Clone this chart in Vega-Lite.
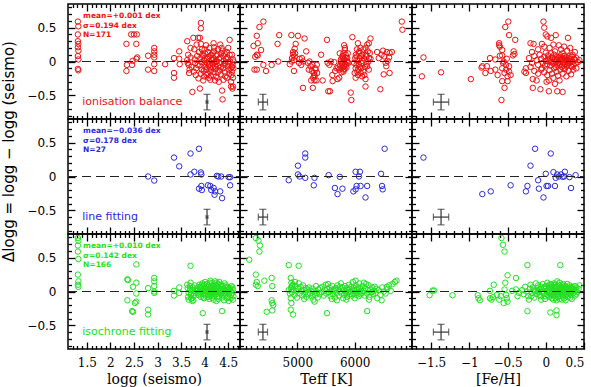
{
  "$schema": "https://vega.github.io/schema/vega-lite/v6.json",
  "background": "white",
  "padding": {"left": 1, "top": 2, "right": 5, "bottom": 2},
  "columns": 3,
  "spacing": 0,
  "bounds": "flush",
  "datasets": {
    "ionLogg": [
      {"logg":1.31,"dlogg":0.59},{"logg":1.32,"dlogg":0.52},{"logg":1.31,"dlogg":0.40},{"logg":1.31,"dlogg":0.30},{"logg":1.32,"dlogg":0.26},{"logg":1.31,"dlogg":0.21},{"logg":1.32,"dlogg":0.16},{"logg":1.31,"dlogg":0.08},{"logg":1.32,"dlogg":0.03},{"logg":1.31,"dlogg":-0.11},{"logg":1.32,"dlogg":-0.13},
      {"logg":2.34,"dlogg":0.26},{"logg":2.35,"dlogg":-0.05},{"logg":2.34,"dlogg":-0.14},{"logg":2.44,"dlogg":0.40},{"logg":2.50,"dlogg":0.40},{"logg":2.56,"dlogg":0.40},{"logg":2.55,"dlogg":0.26},{"logg":2.47,"dlogg":0.01},{"logg":2.55,"dlogg":0.04},{"logg":2.57,"dlogg":0.06},{"logg":2.46,"dlogg":-0.05},
      {"logg":2.80,"dlogg":0.085},{"logg":2.80,"dlogg":-0.12},{"logg":2.93,"dlogg":0.20},{"logg":2.93,"dlogg":0.15},{"logg":2.93,"dlogg":0.10},{"logg":2.93,"dlogg":0.06},{"logg":2.93,"dlogg":-0.04},{"logg":2.93,"dlogg":-0.14},{"logg":3.16,"dlogg":-0.04},
      {"logg":3.35,"dlogg":0.05},{"logg":3.35,"dlogg":-0.17},{"logg":3.35,"dlogg":-0.24},{"logg":3.46,"dlogg":0.15},{"logg":3.46,"dlogg":0.04},{"logg":3.47,"dlogg":-0.04},
      {"logg":3.63,"dlogg":0.30},{"logg":3.65,"dlogg":0.10},{"logg":3.64,"dlogg":-0.02},{"logg":3.66,"dlogg":-0.05},{"logg":3.68,"dlogg":-0.12},{"logg":3.63,"dlogg":0.02},{"logg":3.70,"dlogg":0.20},{"logg":3.72,"dlogg":-0.08},{"logg":3.74,"dlogg":-0.45},{"logg":3.70,"dlogg":0.06},{"logg":3.67,"dlogg":-0.17},
      {"logg":3.76,"dlogg":0.35},{"logg":3.78,"dlogg":0.18},{"logg":3.79,"dlogg":0.03},{"logg":3.80,"dlogg":-0.02},{"logg":3.82,"dlogg":-0.10},{"logg":3.77,"dlogg":-0.15},{"logg":3.84,"dlogg":0.08},{"logg":3.81,"dlogg":-0.20},{"logg":3.83,"dlogg":0.25},{"logg":3.86,"dlogg":0.35},{"logg":3.85,"dlogg":-0.05},
      {"logg":3.92,"dlogg":0.57},{"logg":3.92,"dlogg":0.49},{"logg":3.90,"dlogg":0.35},{"logg":3.92,"dlogg":0.26},{"logg":3.88,"dlogg":0.14},{"logg":3.91,"dlogg":0.05},{"logg":3.93,"dlogg":-0.01},{"logg":3.89,"dlogg":-0.06},{"logg":3.94,"dlogg":-0.12},{"logg":3.92,"dlogg":-0.18},{"logg":3.90,"dlogg":-0.40},{"logg":3.95,"dlogg":0.10},{"logg":3.87,"dlogg":-0.25},{"logg":3.94,"dlogg":0.18},
      {"logg":3.97,"dlogg":0.08},{"logg":3.99,"dlogg":0.02},{"logg":4.00,"dlogg":-0.03},{"logg":4.02,"dlogg":-0.08},{"logg":3.98,"dlogg":-0.14},{"logg":4.01,"dlogg":0.12},{"logg":4.03,"dlogg":0.24},{"logg":4.04,"dlogg":-0.20},{"logg":3.97,"dlogg":-0.28},{"logg":4.05,"dlogg":0.04},{"logg":4.00,"dlogg":0.18},{"logg":4.03,"dlogg":-0.12},{"logg":3.99,"dlogg":-0.22},{"logg":4.05,"dlogg":-0.02},
      {"logg":4.07,"dlogg":0.14},{"logg":4.08,"dlogg":0.06},{"logg":4.09,"dlogg":0.00},{"logg":4.10,"dlogg":-0.04},{"logg":4.11,"dlogg":-0.09},{"logg":4.12,"dlogg":-0.15},{"logg":4.13,"dlogg":-0.21},{"logg":4.14,"dlogg":0.10},{"logg":4.06,"dlogg":-0.18},{"logg":4.10,"dlogg":0.20},{"logg":4.15,"dlogg":0.02},{"logg":4.12,"dlogg":-0.27},{"logg":4.08,"dlogg":-0.06},{"logg":4.14,"dlogg":-0.12},{"logg":4.11,"dlogg":0.08},{"logg":4.09,"dlogg":-0.24},
      {"logg":4.19,"dlogg":0.27},{"logg":4.20,"dlogg":0.21},{"logg":4.17,"dlogg":0.12},{"logg":4.18,"dlogg":0.05},{"logg":4.21,"dlogg":-0.01},{"logg":4.22,"dlogg":-0.06},{"logg":4.23,"dlogg":-0.11},{"logg":4.19,"dlogg":-0.16},{"logg":4.24,"dlogg":-0.22},{"logg":4.16,"dlogg":-0.03},{"logg":4.20,"dlogg":0.15},{"logg":4.25,"dlogg":0.08},{"logg":4.22,"dlogg":-0.28},{"logg":4.18,"dlogg":-0.09},{"logg":4.24,"dlogg":0.00},{"logg":4.17,"dlogg":0.02},
      {"logg":4.33,"dlogg":0.25},{"logg":4.28,"dlogg":0.18},{"logg":4.27,"dlogg":0.10},{"logg":4.30,"dlogg":0.04},{"logg":4.31,"dlogg":-0.02},{"logg":4.29,"dlogg":-0.07},{"logg":4.32,"dlogg":-0.13},{"logg":4.34,"dlogg":-0.19},{"logg":4.27,"dlogg":-0.24},{"logg":4.35,"dlogg":0.12},{"logg":4.30,"dlogg":-0.30},{"logg":4.26,"dlogg":0.00},{"logg":4.33,"dlogg":0.06},{"logg":4.35,"dlogg":-0.08},{"logg":4.28,"dlogg":-0.16},
      {"logg":4.37,"dlogg":-0.43},{"logg":4.38,"dlogg":-0.56},{"logg":4.38,"dlogg":0.16},{"logg":4.40,"dlogg":0.08},{"logg":4.41,"dlogg":0.01},{"logg":4.42,"dlogg":-0.05},{"logg":4.39,"dlogg":-0.10},{"logg":4.43,"dlogg":-0.16},{"logg":4.44,"dlogg":-0.22},{"logg":4.36,"dlogg":0.20},{"logg":4.45,"dlogg":0.04},{"logg":4.40,"dlogg":-0.27},{"logg":4.42,"dlogg":0.12},{"logg":4.44,"dlogg":-0.02},
      {"logg":4.53,"dlogg":0.32},{"logg":4.53,"dlogg":0.10},{"logg":4.47,"dlogg":0.14},{"logg":4.48,"dlogg":0.05},{"logg":4.50,"dlogg":-0.01},{"logg":4.49,"dlogg":-0.07},{"logg":4.51,"dlogg":-0.12},{"logg":4.52,"dlogg":-0.18},{"logg":4.47,"dlogg":-0.24},{"logg":4.54,"dlogg":0.00},{"logg":4.56,"dlogg":-0.30},{"logg":4.56,"dlogg":-0.37},{"logg":4.50,"dlogg":0.20},{"logg":4.55,"dlogg":-0.10},
      {"logg":4.58,"dlogg":0.10},{"logg":4.60,"dlogg":0.03},{"logg":4.59,"dlogg":-0.05},{"logg":4.61,"dlogg":-0.10},{"logg":4.58,"dlogg":-0.15},{"logg":4.60,"dlogg":-0.24},{"logg":4.60,"dlogg":-0.37},{"logg":4.59,"dlogg":-0.40},{"logg":4.61,"dlogg":0.00},{"logg":4.57,"dlogg":-0.20},{"logg":4.58,"dlogg":-0.08}
    ],
    "ionTeff": [
      {"teff":4408,"dlogg":0.59},{"teff":4339,"dlogg":0.51},{"teff":4293,"dlogg":0.38},{"teff":4310,"dlogg":0.27},{"teff":4236,"dlogg":0.23},{"teff":4368,"dlogg":0.17},{"teff":4293,"dlogg":0.10},{"teff":4264,"dlogg":0.07},{"teff":4310,"dlogg":0.09},{"teff":4408,"dlogg":-0.05},{"teff":4253,"dlogg":-0.12},{"teff":4293,"dlogg":-0.12},{"teff":4454,"dlogg":-0.14},{"teff":4552,"dlogg":-0.05},{"teff":4667,"dlogg":0.0},{"teff":4655,"dlogg":0.26},{"teff":4684,"dlogg":0.39},
      {"teff":4896,"dlogg":0.39},{"teff":5011,"dlogg":0.38},{"teff":5126,"dlogg":0.34},{"teff":4971,"dlogg":0.26},{"teff":4954,"dlogg":0.19},{"teff":4925,"dlogg":0.10},{"teff":4954,"dlogg":0.075},{"teff":4908,"dlogg":0.05},{"teff":4868,"dlogg":-0.04},{"teff":5040,"dlogg":0.04},{"teff":5098,"dlogg":0.0},{"teff":5069,"dlogg":-0.05},{"teff":4942,"dlogg":-0.14},{"teff":5155,"dlogg":0.15},{"teff":5098,"dlogg":-0.39},{"teff":4925,"dlogg":0.14},{"teff":4942,"dlogg":0.02},
      {"teff":5184,"dlogg":-0.02},{"teff":5230,"dlogg":-0.07},{"teff":5253,"dlogg":-0.14},{"teff":5287,"dlogg":-0.17},{"teff":5310,"dlogg":-0.10},{"teff":5339,"dlogg":-0.05},{"teff":5276,"dlogg":-0.24},{"teff":5299,"dlogg":-0.28},{"teff":5345,"dlogg":-0.17},{"teff":5241,"dlogg":-0.28},{"teff":5213,"dlogg":0.0},{"teff":5270,"dlogg":-0.39},{"teff":5414,"dlogg":0.10},{"teff":5333,"dlogg":-0.28},{"teff":5264,"dlogg":-0.05},{"teff":5299,"dlogg":-0.22},{"teff":5322,"dlogg":-0.12},
      {"teff":5517,"dlogg":0.32},{"teff":5442,"dlogg":-0.28},{"teff":5540,"dlogg":-0.44},{"teff":5569,"dlogg":-0.44},{"teff":5529,"dlogg":-0.02},{"teff":5586,"dlogg":0.0},{"teff":5644,"dlogg":-0.01},{"teff":5615,"dlogg":-0.29},{"teff":5701,"dlogg":-0.26},{"teff":5730,"dlogg":-0.24},{"teff":5684,"dlogg":-0.10},{"teff":5610,"dlogg":-0.20},{"teff":5660,"dlogg":-0.14},
      {"teff":5816,"dlogg":0.24},{"teff":5827,"dlogg":0.17},{"teff":5804,"dlogg":0.12},{"teff":5787,"dlogg":0.075},{"teff":5845,"dlogg":0.06},{"teff":5816,"dlogg":0.025},{"teff":5862,"dlogg":0.01},{"teff":5759,"dlogg":0.0},{"teff":5793,"dlogg":-0.02},{"teff":5833,"dlogg":-0.04},{"teff":5873,"dlogg":-0.01},{"teff":5747,"dlogg":-0.06},{"teff":5816,"dlogg":-0.07},{"teff":5770,"dlogg":-0.10},{"teff":5856,"dlogg":-0.09},{"teff":5730,"dlogg":-0.12},{"teff":5804,"dlogg":-0.15},{"teff":5713,"dlogg":-0.09},{"teff":5845,"dlogg":0.10},{"teff":5800,"dlogg":0.04},{"teff":5780,"dlogg":-0.03},{"teff":5870,"dlogg":0.05},{"teff":5825,"dlogg":-0.11},{"teff":5760,"dlogg":0.03},{"teff":5890,"dlogg":-0.02},
      {"teff":5931,"dlogg":-0.46},{"teff":5942,"dlogg":-0.57},{"teff":5960,"dlogg":0.36},
      {"teff":6057,"dlogg":0.27},{"teff":6103,"dlogg":0.20},{"teff":6075,"dlogg":0.125},{"teff":6132,"dlogg":0.10},{"teff":6034,"dlogg":0.075},{"teff":6092,"dlogg":0.05},{"teff":6046,"dlogg":0.01},{"teff":6132,"dlogg":0.01},{"teff":5988,"dlogg":-0.02},{"teff":6075,"dlogg":-0.05},{"teff":6017,"dlogg":-0.10},{"teff":6115,"dlogg":-0.10},{"teff":6046,"dlogg":-0.15},{"teff":6000,"dlogg":-0.17},{"teff":6103,"dlogg":-0.17},{"teff":6057,"dlogg":-0.20},{"teff":6017,"dlogg":-0.24},{"teff":6149,"dlogg":-0.15},{"teff":6189,"dlogg":-0.26},{"teff":6189,"dlogg":-0.37},{"teff":6207,"dlogg":-0.04},{"teff":6189,"dlogg":0.20},{"teff":6218,"dlogg":0.25},{"teff":6247,"dlogg":0.27},{"teff":6276,"dlogg":0.34},{"teff":6230,"dlogg":0.15},{"teff":6264,"dlogg":0.125},{"teff":6207,"dlogg":0.075},{"teff":6276,"dlogg":0.04},{"teff":6247,"dlogg":-0.12},{"teff":6218,"dlogg":-0.07},{"teff":6160,"dlogg":0.05},{"teff":6120,"dlogg":-0.03},{"teff":6240,"dlogg":0.0},{"teff":6180,"dlogg":-0.08},{"teff":6080,"dlogg":0.15},{"teff":6010,"dlogg":0.05},
      {"teff":6391,"dlogg":0.14},{"teff":6494,"dlogg":0.16},{"teff":6563,"dlogg":0.14},{"teff":6609,"dlogg":0.125},{"teff":6649,"dlogg":0.14},{"teff":6517,"dlogg":0.075},{"teff":6575,"dlogg":0.01},{"teff":6552,"dlogg":-0.07},{"teff":6609,"dlogg":-0.17},{"teff":6506,"dlogg":-0.19},{"teff":6448,"dlogg":-0.41},{"teff":6420,"dlogg":0.05},{"teff":6600,"dlogg":0.06},
      {"teff":6822,"dlogg":0.59},{"teff":6833,"dlogg":0.47},
      {"teff":5790,"dlogg":0.08},{"teff":5850,"dlogg":-0.05},{"teff":5810,"dlogg":-0.12},{"teff":5740,"dlogg":0.12},{"teff":5880,"dlogg":0.12},{"teff":5770,"dlogg":-0.16},{"teff":5830,"dlogg":0.20},{"teff":6040,"dlogg":0.18},{"teff":6090,"dlogg":-0.08},{"teff":6150,"dlogg":0.18},{"teff":6060,"dlogg":-0.12},{"teff":6110,"dlogg":0.08},{"teff":6170,"dlogg":-0.20},{"teff":6030,"dlogg":-0.05},{"teff":6200,"dlogg":0.10},{"teff":6130,"dlogg":-0.22},{"teff":6250,"dlogg":0.05},{"teff":6020,"dlogg":0.10},{"teff":4960,"dlogg":0.12},{"teff":5030,"dlogg":-0.02},{"teff":5200,"dlogg":-0.12},{"teff":5300,"dlogg":-0.20},{"teff":5560,"dlogg":-0.05},{"teff":6470,"dlogg":0.10},{"teff":6540,"dlogg":-0.02},{"teff":4900,"dlogg":0.0},{"teff":5080,"dlogg":0.05}
    ],
    "ionFeh": [
      {"feh":-1.60,"dlogg":0.06},{"feh":-1.62,"dlogg":-0.22},{"feh":-1.37,"dlogg":-0.16},{"feh":-0.98,"dlogg":-0.26},{"feh":-0.84,"dlogg":-0.09},{"feh":-0.79,"dlogg":-0.17},{"feh":-0.72,"dlogg":-0.14},{"feh":-0.66,"dlogg":-0.12},{"feh":-0.73,"dlogg":0.05},{"feh":-0.66,"dlogg":0.03},{"feh":-0.60,"dlogg":0.085},{"feh":-0.57,"dlogg":0.09},{"feh":-0.61,"dlogg":0.27},{"feh":-0.61,"dlogg":0.24},{"feh":-0.60,"dlogg":0.22},{"feh":-0.57,"dlogg":0.17},{"feh":-0.53,"dlogg":0.51},{"feh":-0.49,"dlogg":0.59},{"feh":-0.48,"dlogg":0.39},{"feh":-0.40,"dlogg":0.32},{"feh":-0.42,"dlogg":0.15},{"feh":-0.41,"dlogg":0.11},{"feh":-0.43,"dlogg":0.09},{"feh":-0.55,"dlogg":0.0},{"feh":-0.52,"dlogg":-0.05},{"feh":-0.48,"dlogg":-0.07},{"feh":-0.57,"dlogg":-0.10},{"feh":-0.52,"dlogg":-0.12},{"feh":-0.48,"dlogg":-0.15},{"feh":-0.54,"dlogg":-0.17},{"feh":-0.46,"dlogg":-0.20},{"feh":-0.57,"dlogg":-0.29},{"feh":-0.50,"dlogg":-0.29},{"feh":-0.54,"dlogg":-0.39},{"feh":-0.58,"dlogg":-0.57},{"feh":-0.77,"dlogg":-0.07},{"feh":-0.83,"dlogg":-0.07},{"feh":-0.56,"dlogg":-0.02},{"feh":-0.50,"dlogg":-0.22},{"feh":-0.26,"dlogg":-0.10},{"feh":-0.26,"dlogg":-0.17},{"feh":-0.28,"dlogg":-0.15},{"feh":-0.63,"dlogg":-0.20},{"feh":-0.51,"dlogg":0.04},
      {"feh":-0.03,"dlogg":0.59},{"feh":-0.02,"dlogg":0.50},{"feh":0.0,"dlogg":0.40},{"feh":0.02,"dlogg":0.37},{"feh":0.13,"dlogg":0.39},{"feh":0.29,"dlogg":0.35},{"feh":0.07,"dlogg":0.35},
      {"feh":-0.20,"dlogg":0.27},{"feh":-0.16,"dlogg":0.26},{"feh":-0.05,"dlogg":0.26},{"feh":-0.02,"dlogg":0.22},{"feh":0.10,"dlogg":0.25},{"feh":0.17,"dlogg":0.24},{"feh":0.24,"dlogg":0.22},{"feh":0.32,"dlogg":0.20},{"feh":0.05,"dlogg":0.20},{"feh":0.20,"dlogg":0.18},{"feh":-0.10,"dlogg":0.18},{"feh":0.28,"dlogg":0.16},{"feh":0.38,"dlogg":0.14},{"feh":-0.18,"dlogg":0.14},{"feh":0.12,"dlogg":0.15},{"feh":0.00,"dlogg":0.13},{"feh":0.22,"dlogg":0.12},{"feh":0.35,"dlogg":0.10},
      {"feh":-0.22,"dlogg":0.05},{"feh":-0.18,"dlogg":-0.02},{"feh":-0.15,"dlogg":0.08},{"feh":-0.12,"dlogg":0.02},{"feh":-0.10,"dlogg":-0.05},{"feh":-0.08,"dlogg":0.10},{"feh":-0.06,"dlogg":0.04},{"feh":-0.04,"dlogg":-0.02},{"feh":-0.02,"dlogg":0.07},{"feh":0.00,"dlogg":0.01},{"feh":0.02,"dlogg":-0.04},{"feh":0.03,"dlogg":0.09},{"feh":0.05,"dlogg":0.03},{"feh":0.06,"dlogg":-0.06},{"feh":0.08,"dlogg":0.06},{"feh":0.09,"dlogg":0.00},{"feh":0.10,"dlogg":-0.03},{"feh":0.11,"dlogg":0.10},{"feh":0.12,"dlogg":0.04},{"feh":0.13,"dlogg":-0.08},{"feh":0.14,"dlogg":0.02},{"feh":0.15,"dlogg":0.07},{"feh":0.16,"dlogg":-0.02},{"feh":0.17,"dlogg":0.05},{"feh":0.18,"dlogg":-0.05},{"feh":0.19,"dlogg":0.09},{"feh":0.20,"dlogg":0.01},{"feh":0.21,"dlogg":-0.08},{"feh":0.22,"dlogg":0.04},{"feh":0.23,"dlogg":-0.01},{"feh":0.24,"dlogg":0.08},{"feh":0.25,"dlogg":-0.04},{"feh":0.26,"dlogg":0.02},{"feh":0.27,"dlogg":0.06},{"feh":0.28,"dlogg":-0.06},{"feh":0.29,"dlogg":0.01},{"feh":0.30,"dlogg":0.05},{"feh":0.31,"dlogg":-0.02},{"feh":0.32,"dlogg":0.03},{"feh":0.33,"dlogg":-0.07},{"feh":0.34,"dlogg":0.07},{"feh":0.35,"dlogg":0.00},{"feh":0.36,"dlogg":-0.04},{"feh":0.38,"dlogg":0.02},{"feh":0.40,"dlogg":0.05},{"feh":0.42,"dlogg":-0.01},{"feh":0.44,"dlogg":0.02},{"feh":-0.20,"dlogg":-0.08},{"feh":-0.05,"dlogg":-0.10},{"feh":0.07,"dlogg":0.12},
      {"feh":-0.15,"dlogg":-0.14},{"feh":-0.10,"dlogg":-0.18},{"feh":-0.06,"dlogg":-0.12},{"feh":-0.02,"dlogg":-0.16},{"feh":0.02,"dlogg":-0.20},{"feh":0.05,"dlogg":-0.13},{"feh":0.08,"dlogg":-0.18},{"feh":0.10,"dlogg":-0.24},{"feh":0.14,"dlogg":-0.15},{"feh":0.16,"dlogg":-0.21},{"feh":0.19,"dlogg":-0.12},{"feh":0.22,"dlogg":-0.18},{"feh":0.25,"dlogg":-0.11},{"feh":0.27,"dlogg":-0.22},{"feh":0.30,"dlogg":-0.14},{"feh":0.33,"dlogg":-0.19},{"feh":0.36,"dlogg":-0.12},{"feh":0.40,"dlogg":-0.10},{"feh":0.04,"dlogg":-0.28},{"feh":0.18,"dlogg":-0.28},{"feh":0.12,"dlogg":-0.33},
      {"feh":-0.17,"dlogg":-0.26},{"feh":-0.17,"dlogg":-0.39},{"feh":-0.07,"dlogg":-0.41},{"feh":0.04,"dlogg":-0.44},{"feh":0.15,"dlogg":-0.44},{"feh":0.22,"dlogg":-0.45},{"feh":0.01,"dlogg":-0.30},{"feh":-0.12,"dlogg":-0.28},
      {"feh":0.05,"dlogg":0.00},{"feh":0.09,"dlogg":0.05},{"feh":0.13,"dlogg":0.00},{"feh":0.17,"dlogg":-0.01},{"feh":0.21,"dlogg":0.03},{"feh":0.25,"dlogg":0.04},{"feh":0.29,"dlogg":-0.03},{"feh":0.33,"dlogg":0.01},{"feh":0.37,"dlogg":0.04},{"feh":0.03,"dlogg":0.04},{"feh":-0.01,"dlogg":-0.06},{"feh":0.11,"dlogg":-0.10},{"feh":0.15,"dlogg":-0.06},{"feh":0.19,"dlogg":0.03},{"feh":0.23,"dlogg":-0.10},{"feh":0.27,"dlogg":-0.01},{"feh":0.31,"dlogg":0.08},{"feh":0.35,"dlogg":-0.08},{"feh":0.39,"dlogg":-0.03},{"feh":0.07,"dlogg":-0.01},{"feh":0.20,"dlogg":0.06},{"feh":0.24,"dlogg":-0.06},{"feh":0.28,"dlogg":0.03}
    ],
    "lineLogg": [
      {"logg":2.80,"dlogg":0.0},{"logg":2.93,"dlogg":-0.06},{"logg":3.35,"dlogg":0.28},{"logg":3.46,"dlogg":0.15},{"logg":3.70,"dlogg":0.34},{"logg":3.88,"dlogg":0.41},{"logg":3.70,"dlogg":0.03},{"logg":3.78,"dlogg":0.07},{"logg":3.92,"dlogg":0.06},{"logg":3.93,"dlogg":0.03},{"logg":3.88,"dlogg":-0.18},{"logg":3.94,"dlogg":-0.20},{"logg":3.93,"dlogg":-0.14},{"logg":4.07,"dlogg":-0.13},{"logg":4.12,"dlogg":-0.14},{"logg":4.19,"dlogg":-0.17},{"logg":4.14,"dlogg":-0.20},{"logg":4.22,"dlogg":-0.22},{"logg":4.21,"dlogg":-0.27},{"logg":4.26,"dlogg":0.01},{"logg":4.29,"dlogg":0.0},{"logg":4.35,"dlogg":0.0},{"logg":4.33,"dlogg":-0.22},{"logg":4.37,"dlogg":-0.32},{"logg":4.51,"dlogg":-0.01},{"logg":4.54,"dlogg":-0.01},{"logg":4.54,"dlogg":-0.13}
    ],
    "lineTeff": [
      {"teff":4850,"dlogg":-0.055},{"teff":5011,"dlogg":0.16},{"teff":5138,"dlogg":0.34},{"teff":5138,"dlogg":0.28},{"teff":5011,"dlogg":0.03},{"teff":5040,"dlogg":0.0},{"teff":5138,"dlogg":-0.02},{"teff":5299,"dlogg":-0.02},{"teff":5287,"dlogg":-0.13},{"teff":5546,"dlogg":0.02},{"teff":5655,"dlogg":-0.17},{"teff":5701,"dlogg":-0.26},{"teff":5787,"dlogg":-0.18},{"teff":5741,"dlogg":-0.005},{"teff":5977,"dlogg":-0.22},{"teff":6017,"dlogg":-0.19},{"teff":6017,"dlogg":0.07},{"teff":6092,"dlogg":0.07},{"teff":6075,"dlogg":0.0},{"teff":6034,"dlogg":-0.14},{"teff":6103,"dlogg":-0.14},{"teff":6218,"dlogg":-0.14},{"teff":6189,"dlogg":-0.31},{"teff":6460,"dlogg":0.04},{"teff":6477,"dlogg":-0.14},{"teff":6489,"dlogg":-0.19},{"teff":6523,"dlogg":0.41}
    ],
    "lineFeh": [
      {"feh":-1.60,"dlogg":0.28},{"feh":-0.83,"dlogg":-0.26},{"feh":-0.72,"dlogg":-0.22},{"feh":-0.46,"dlogg":-0.13},{"feh":-0.26,"dlogg":-0.22},{"feh":-0.24,"dlogg":-0.14},{"feh":-0.20,"dlogg":0.16},{"feh":-0.14,"dlogg":0.41},{"feh":-0.10,"dlogg":-0.055},{"feh":-0.09,"dlogg":-0.18},{"feh":-0.03,"dlogg":-0.31},{"feh":0.0,"dlogg":0.04},{"feh":0.01,"dlogg":-0.14},{"feh":0.03,"dlogg":-0.14},{"feh":0.065,"dlogg":0.34},{"feh":0.10,"dlogg":0.064},{"feh":0.13,"dlogg":-0.02},{"feh":0.12,"dlogg":-0.14},{"feh":0.15,"dlogg":0.03},{"feh":0.17,"dlogg":0.0},{"feh":0.20,"dlogg":0.03},{"feh":0.22,"dlogg":-0.005},{"feh":0.25,"dlogg":0.07},{"feh":0.24,"dlogg":0.0},{"feh":0.31,"dlogg":-0.01},{"feh":0.33,"dlogg":-0.17},{"feh":0.39,"dlogg":0.02}
    ],
    "isoLogg": [
      {"logg":1.31,"dlogg":0.79},{"logg":1.32,"dlogg":0.75},{"logg":1.31,"dlogg":0.68},{"logg":1.31,"dlogg":0.59},{"logg":1.32,"dlogg":0.48},{"logg":1.31,"dlogg":0.25},{"logg":1.32,"dlogg":0.15},{"logg":1.31,"dlogg":0.10},{"logg":1.32,"dlogg":0.07},
      {"logg":2.36,"dlogg":0.18},{"logg":2.37,"dlogg":0.17},{"logg":2.36,"dlogg":-0.13},{"logg":2.48,"dlogg":0.07},{"logg":2.46,"dlogg":-0.29},{"logg":2.48,"dlogg":-0.30},{"logg":2.52,"dlogg":-0.17},{"logg":2.55,"dlogg":-0.15},{"logg":2.55,"dlogg":0.40},{"logg":2.55,"dlogg":0.13},{"logg":2.55,"dlogg":-0.03},{"logg":2.80,"dlogg":0.05},{"logg":2.80,"dlogg":-0.27},{"logg":2.80,"dlogg":-0.34},{"logg":2.93,"dlogg":0.20},{"logg":2.93,"dlogg":0.15},{"logg":2.93,"dlogg":0.08},{"logg":2.93,"dlogg":0.00},{"logg":2.93,"dlogg":-0.02},{"logg":3.35,"dlogg":0.01},{"logg":3.35,"dlogg":-0.06},{"logg":3.46,"dlogg":0.06},{"logg":3.46,"dlogg":-0.02},{"logg":3.70,"dlogg":0.38},{"logg":3.69,"dlogg":0.03},{"logg":3.71,"dlogg":-0.05},{"logg":3.72,"dlogg":-0.10},{"logg":3.74,"dlogg":-0.14},{"logg":3.96,"dlogg":-0.32},{"logg":4.37,"dlogg":-0.29},
      {"logg":3.64,"dlogg":0.05},{"logg":3.66,"dlogg":-0.02},{"logg":3.65,"dlogg":-0.08},{"logg":3.63,"dlogg":0.10},{"logg":3.66,"dlogg":-0.12},
      {"logg":3.70,"dlogg":0.02},{"logg":3.71,"dlogg":-0.04},{"logg":3.69,"dlogg":0.08},{"logg":3.72,"dlogg":-0.10},{"logg":3.70,"dlogg":0.13},
      {"logg":3.76,"dlogg":0.00},{"logg":3.75,"dlogg":0.06},{"logg":3.77,"dlogg":-0.06},{"logg":3.76,"dlogg":-0.13},
      {"logg":3.80,"dlogg":0.03},{"logg":3.81,"dlogg":-0.02},{"logg":3.79,"dlogg":0.09},
      {"logg":3.85,"dlogg":0.01},{"logg":3.86,"dlogg":-0.05},{"logg":3.84,"dlogg":0.05},
      {"logg":3.90,"dlogg":0.04},{"logg":3.91,"dlogg":-0.01},{"logg":3.89,"dlogg":0.10},{"logg":3.92,"dlogg":-0.08},{"logg":3.90,"dlogg":0.07},{"logg":3.88,"dlogg":-0.03},
      {"logg":3.95,"dlogg":0.02},{"logg":3.96,"dlogg":-0.04},{"logg":3.94,"dlogg":0.08},{"logg":3.95,"dlogg":0.12},{"logg":3.97,"dlogg":-0.09},{"logg":3.93,"dlogg":0.05},{"logg":3.96,"dlogg":0.00},
      {"logg":4.00,"dlogg":0.06},{"logg":4.01,"dlogg":-0.02},{"logg":3.99,"dlogg":0.10},{"logg":4.02,"dlogg":-0.06},{"logg":4.00,"dlogg":0.03},{"logg":4.01,"dlogg":0.14},{"logg":3.99,"dlogg":-0.10},
      {"logg":4.05,"dlogg":0.01},{"logg":4.06,"dlogg":0.07},{"logg":4.04,"dlogg":-0.04},{"logg":4.05,"dlogg":0.11},{"logg":4.07,"dlogg":-0.08},{"logg":4.04,"dlogg":0.04},{"logg":4.06,"dlogg":-0.01},
      {"logg":4.10,"dlogg":0.05},{"logg":4.11,"dlogg":-0.03},{"logg":4.09,"dlogg":0.09},{"logg":4.10,"dlogg":0.00},{"logg":4.12,"dlogg":-0.07},{"logg":4.11,"dlogg":0.13},{"logg":4.09,"dlogg":0.03},{"logg":4.10,"dlogg":-0.11},
      {"logg":4.15,"dlogg":0.02},{"logg":4.16,"dlogg":0.08},{"logg":4.14,"dlogg":-0.05},{"logg":4.15,"dlogg":0.12},{"logg":4.17,"dlogg":-0.02},{"logg":4.14,"dlogg":0.06},{"logg":4.16,"dlogg":-0.09},
      {"logg":4.20,"dlogg":0.04},{"logg":4.21,"dlogg":-0.01},{"logg":4.19,"dlogg":0.10},{"logg":4.20,"dlogg":-0.06},{"logg":4.22,"dlogg":0.15},{"logg":4.21,"dlogg":0.01},{"logg":4.19,"dlogg":-0.12},{"logg":4.20,"dlogg":0.07},
      {"logg":4.25,"dlogg":0.03},{"logg":4.26,"dlogg":0.09},{"logg":4.24,"dlogg":-0.04},{"logg":4.25,"dlogg":0.13},{"logg":4.27,"dlogg":-0.08},{"logg":4.24,"dlogg":0.00},{"logg":4.26,"dlogg":0.06},{"logg":4.25,"dlogg":-0.14},
      {"logg":4.30,"dlogg":0.05},{"logg":4.31,"dlogg":-0.02},{"logg":4.29,"dlogg":0.11},{"logg":4.30,"dlogg":-0.07},{"logg":4.32,"dlogg":0.02},{"logg":4.31,"dlogg":0.14},{"logg":4.29,"dlogg":-0.11},
      {"logg":4.35,"dlogg":0.01},{"logg":4.36,"dlogg":0.07},{"logg":4.34,"dlogg":-0.04},{"logg":4.35,"dlogg":0.10},{"logg":4.37,"dlogg":-0.09},{"logg":4.34,"dlogg":0.04},
      {"logg":4.40,"dlogg":0.03},{"logg":4.41,"dlogg":-0.02},{"logg":4.39,"dlogg":0.08},{"logg":4.40,"dlogg":-0.06},{"logg":4.42,"dlogg":0.12},{"logg":4.41,"dlogg":-0.13},
      {"logg":4.45,"dlogg":0.00},{"logg":4.46,"dlogg":0.06},{"logg":4.44,"dlogg":-0.05},{"logg":4.45,"dlogg":0.09},{"logg":4.47,"dlogg":-0.10},
      {"logg":4.50,"dlogg":0.02},{"logg":4.51,"dlogg":-0.03},{"logg":4.49,"dlogg":0.07},{"logg":4.50,"dlogg":-0.08},{"logg":4.52,"dlogg":0.04},{"logg":4.51,"dlogg":-0.14},
      {"logg":4.55,"dlogg":0.01},{"logg":4.56,"dlogg":-0.05},{"logg":4.54,"dlogg":0.05},{"logg":4.55,"dlogg":-0.10},{"logg":4.57,"dlogg":0.08},
      {"logg":4.59,"dlogg":-0.02},{"logg":4.60,"dlogg":0.03},{"logg":4.61,"dlogg":-0.07},{"logg":4.60,"dlogg":-0.12},{"logg":4.59,"dlogg":0.06},
      {"logg":4.08,"dlogg":0.02},{"logg":4.08,"dlogg":-0.05},{"logg":4.18,"dlogg":0.03},{"logg":4.18,"dlogg":-0.03},{"logg":4.28,"dlogg":-0.01},{"logg":4.28,"dlogg":0.08},{"logg":3.98,"dlogg":0.01},{"logg":4.38,"dlogg":-0.01},{"logg":4.48,"dlogg":0.05},{"logg":4.12,"dlogg":0.16}
    ],
    "isoTeff": [
      {"teff":4276,"dlogg":0.79},{"teff":4322,"dlogg":0.75},{"teff":4350,"dlogg":0.68},{"teff":4339,"dlogg":0.59},{"teff":4161,"dlogg":0.47},{"teff":4276,"dlogg":0.25},{"teff":4293,"dlogg":0.14},{"teff":4276,"dlogg":0.10},{"teff":4310,"dlogg":0.08},{"teff":4425,"dlogg":0.16},{"teff":4552,"dlogg":0.20},{"teff":4563,"dlogg":0.08},{"teff":4552,"dlogg":-0.13},{"teff":4563,"dlogg":-0.17},{"teff":4580,"dlogg":-0.20},{"teff":4563,"dlogg":-0.28},{"teff":4465,"dlogg":-0.30},{"teff":4850,"dlogg":0.39},{"teff":5023,"dlogg":0.38},{"teff":4885,"dlogg":0.20},{"teff":4896,"dlogg":0.13},{"teff":4908,"dlogg":0.08},{"teff":4896,"dlogg":0.03},{"teff":4885,"dlogg":-0.10},{"teff":4896,"dlogg":-0.17},{"teff":4885,"dlogg":-0.27},{"teff":4925,"dlogg":-0.34},{"teff":5517,"dlogg":-0.32},{"teff":6218,"dlogg":-0.29},
      {"teff":4850,"dlogg":0.02},{"teff":4870,"dlogg":-0.03},{"teff":4890,"dlogg":0.06},{"teff":4905,"dlogg":-0.01},{"teff":4920,"dlogg":0.10},{"teff":4935,"dlogg":0.03},{"teff":4950,"dlogg":-0.05},{"teff":4965,"dlogg":0.08},{"teff":4980,"dlogg":0.00},{"teff":4995,"dlogg":-0.09},{"teff":5010,"dlogg":0.04},{"teff":5025,"dlogg":0.12},{"teff":5040,"dlogg":-0.03},{"teff":5055,"dlogg":0.07},{"teff":5070,"dlogg":0.01},{"teff":5085,"dlogg":-0.06},{"teff":5100,"dlogg":0.09},{"teff":5115,"dlogg":0.02},{"teff":5130,"dlogg":-0.02},{"teff":5145,"dlogg":0.05},{"teff":5160,"dlogg":-0.08},{"teff":5175,"dlogg":0.03},{"teff":5190,"dlogg":-0.04},{"teff":5120,"dlogg":-0.11},{"teff":4960,"dlogg":0.14},
      {"teff":5205,"dlogg":0.06},{"teff":5220,"dlogg":-0.03},{"teff":5235,"dlogg":0.01},{"teff":5250,"dlogg":-0.07},{"teff":5265,"dlogg":0.04},{"teff":5280,"dlogg":-0.12},{"teff":5295,"dlogg":0.00},{"teff":5310,"dlogg":-0.05},{"teff":5325,"dlogg":0.08},{"teff":5340,"dlogg":-0.02},{"teff":5355,"dlogg":-0.09},{"teff":5370,"dlogg":0.03},{"teff":5385,"dlogg":-0.04},{"teff":5400,"dlogg":0.05},{"teff":5420,"dlogg":-0.01},{"teff":5440,"dlogg":0.07},{"teff":5460,"dlogg":-0.06},{"teff":5480,"dlogg":0.02},{"teff":5495,"dlogg":0.10},{"teff":5300,"dlogg":-0.15},
      {"teff":5505,"dlogg":-0.03},{"teff":5520,"dlogg":0.04},{"teff":5535,"dlogg":0.11},{"teff":5550,"dlogg":-0.01},{"teff":5565,"dlogg":0.06},{"teff":5580,"dlogg":-0.07},{"teff":5595,"dlogg":0.02},{"teff":5610,"dlogg":0.08},{"teff":5625,"dlogg":-0.04},{"teff":5640,"dlogg":0.01},{"teff":5655,"dlogg":-0.09},{"teff":5670,"dlogg":0.05},{"teff":5685,"dlogg":-0.02},{"teff":5700,"dlogg":0.09},{"teff":5715,"dlogg":0.03},{"teff":5730,"dlogg":-0.06},{"teff":5745,"dlogg":0.00},{"teff":5760,"dlogg":0.12},{"teff":5775,"dlogg":-0.03},{"teff":5790,"dlogg":0.06},{"teff":5800,"dlogg":-0.10},{"teff":5690,"dlogg":-0.13},{"teff":5600,"dlogg":-0.11},{"teff":5740,"dlogg":0.07},{"teff":5660,"dlogg":0.03},
      {"teff":5810,"dlogg":0.02},{"teff":5820,"dlogg":-0.05},{"teff":5830,"dlogg":0.08},{"teff":5840,"dlogg":0.01},{"teff":5850,"dlogg":-0.02},{"teff":5860,"dlogg":0.05},{"teff":5870,"dlogg":-0.08},{"teff":5880,"dlogg":0.03},{"teff":5890,"dlogg":-0.01},{"teff":5900,"dlogg":0.10},{"teff":5910,"dlogg":0.04},{"teff":5920,"dlogg":-0.04},{"teff":5930,"dlogg":0.00},{"teff":5940,"dlogg":0.07},{"teff":5950,"dlogg":-0.06},{"teff":5960,"dlogg":0.02},{"teff":5970,"dlogg":0.14},{"teff":5980,"dlogg":-0.03},{"teff":5990,"dlogg":0.05},{"teff":6000,"dlogg":-0.10},{"teff":6010,"dlogg":0.01},{"teff":6020,"dlogg":0.09},{"teff":6030,"dlogg":-0.05},{"teff":6040,"dlogg":0.03},{"teff":6050,"dlogg":-0.02},{"teff":6060,"dlogg":0.06},{"teff":6070,"dlogg":-0.07},{"teff":6080,"dlogg":0.12},{"teff":6090,"dlogg":0.00},{"teff":6100,"dlogg":-0.04},{"teff":5855,"dlogg":-0.12},{"teff":6015,"dlogg":0.16},
      {"teff":6110,"dlogg":0.04},{"teff":6125,"dlogg":-0.02},{"teff":6140,"dlogg":0.08},{"teff":6155,"dlogg":0.01},{"teff":6170,"dlogg":-0.06},{"teff":6185,"dlogg":0.05},{"teff":6200,"dlogg":0.11},{"teff":6215,"dlogg":-0.03},{"teff":6230,"dlogg":0.02},{"teff":6245,"dlogg":0.09},{"teff":6260,"dlogg":-0.08},{"teff":6275,"dlogg":0.03},{"teff":6290,"dlogg":-0.01},{"teff":6305,"dlogg":0.06},{"teff":6320,"dlogg":-0.04},{"teff":6335,"dlogg":0.01},{"teff":6350,"dlogg":0.07},{"teff":6365,"dlogg":-0.02},{"teff":6380,"dlogg":0.04},{"teff":6395,"dlogg":-0.10},{"teff":6160,"dlogg":0.13},{"teff":6250,"dlogg":-0.12},
      {"teff":6420,"dlogg":0.02},{"teff":6450,"dlogg":-0.05},{"teff":6480,"dlogg":0.06},{"teff":6510,"dlogg":0.00},{"teff":6540,"dlogg":-0.03},{"teff":6570,"dlogg":0.04},{"teff":6600,"dlogg":0.09},{"teff":6630,"dlogg":0.01},{"teff":6660,"dlogg":0.11},{"teff":6700,"dlogg":0.14},{"teff":6730,"dlogg":0.16},{"teff":6470,"dlogg":-0.13},{"teff":6560,"dlogg":0.07}
    ],
    "isoFeh": [
      {"feh":-0.58,"dlogg":0.79},{"feh":-0.56,"dlogg":0.69},{"feh":-0.54,"dlogg":0.59},{"feh":-0.24,"dlogg":0.39},{"feh":0.19,"dlogg":0.39},{"feh":-0.50,"dlogg":0.24},{"feh":-0.53,"dlogg":0.13},{"feh":-0.39,"dlogg":0.20},{"feh":-0.68,"dlogg":0.10},{"feh":-0.73,"dlogg":0.01},{"feh":-1.52,"dlogg":-0.055},{"feh":-1.48,"dlogg":0.014},{"feh":-1.46,"dlogg":0.014},{"feh":-1.22,"dlogg":-0.055},{"feh":-0.89,"dlogg":-0.055},{"feh":-0.88,"dlogg":-0.10},{"feh":-0.86,"dlogg":-0.13},{"feh":-0.73,"dlogg":-0.10},{"feh":-0.71,"dlogg":-0.12},{"feh":-0.69,"dlogg":-0.085},{"feh":-0.64,"dlogg":-0.05},{"feh":-0.61,"dlogg":-0.12},{"feh":-0.59,"dlogg":-0.07},{"feh":-0.54,"dlogg":0.03},{"feh":-0.52,"dlogg":-0.05},{"feh":-0.50,"dlogg":-0.15},{"feh":-0.51,"dlogg":-0.10},{"feh":-0.55,"dlogg":-0.17},{"feh":-0.44,"dlogg":0.01},{"feh":-0.39,"dlogg":0.03},{"feh":-0.37,"dlogg":-0.07},{"feh":-0.35,"dlogg":-0.02},{"feh":-0.24,"dlogg":-0.29},{"feh":0.06,"dlogg":-0.31},{"feh":0.14,"dlogg":-0.28},{"feh":0.14,"dlogg":-0.35},
      {"feh":-0.31,"dlogg":0.02},{"feh":-0.29,"dlogg":-0.04},{"feh":-0.27,"dlogg":0.07},{"feh":-0.25,"dlogg":0.00},{"feh":-0.23,"dlogg":-0.07},{"feh":-0.21,"dlogg":0.04},{"feh":-0.20,"dlogg":0.10},{"feh":-0.18,"dlogg":-0.02},{"feh":-0.17,"dlogg":0.06},{"feh":-0.15,"dlogg":-0.09},
      {"feh":-0.14,"dlogg":0.01},{"feh":-0.13,"dlogg":0.12},{"feh":-0.12,"dlogg":-0.04},{"feh":-0.11,"dlogg":0.05},{"feh":-0.10,"dlogg":0.09},{"feh":-0.09,"dlogg":-0.01},{"feh":-0.08,"dlogg":0.03},{"feh":-0.07,"dlogg":-0.07},{"feh":-0.06,"dlogg":0.07},{"feh":-0.05,"dlogg":0.00},
      {"feh":-0.04,"dlogg":0.11},{"feh":-0.03,"dlogg":-0.03},{"feh":-0.02,"dlogg":0.04},{"feh":-0.01,"dlogg":-0.11},{"feh":0.00,"dlogg":0.08},{"feh":0.01,"dlogg":0.01},{"feh":0.02,"dlogg":-0.05},{"feh":0.02,"dlogg":0.13},{"feh":0.03,"dlogg":0.03},{"feh":0.04,"dlogg":-0.02},
      {"feh":0.05,"dlogg":0.06},{"feh":0.05,"dlogg":-0.08},{"feh":0.06,"dlogg":0.00},{"feh":0.07,"dlogg":0.10},{"feh":0.07,"dlogg":-0.04},{"feh":0.08,"dlogg":0.04},{"feh":0.09,"dlogg":-0.01},{"feh":0.09,"dlogg":0.07},{"feh":0.10,"dlogg":-0.06},{"feh":0.11,"dlogg":0.02},
      {"feh":0.11,"dlogg":0.12},{"feh":0.12,"dlogg":-0.03},{"feh":0.13,"dlogg":0.05},{"feh":0.13,"dlogg":-0.10},{"feh":0.14,"dlogg":0.00},{"feh":0.15,"dlogg":0.08},{"feh":0.15,"dlogg":-0.05},{"feh":0.16,"dlogg":0.03},{"feh":0.17,"dlogg":-0.01},{"feh":0.17,"dlogg":0.10},
      {"feh":0.18,"dlogg":-0.07},{"feh":0.19,"dlogg":0.04},{"feh":0.19,"dlogg":-0.02},{"feh":0.20,"dlogg":0.07},{"feh":0.21,"dlogg":0.00},{"feh":0.21,"dlogg":-0.12},{"feh":0.22,"dlogg":0.05},{"feh":0.23,"dlogg":-0.04},{"feh":0.23,"dlogg":0.11},{"feh":0.24,"dlogg":0.02},
      {"feh":0.25,"dlogg":-0.01},{"feh":0.25,"dlogg":0.08},{"feh":0.26,"dlogg":-0.06},{"feh":0.27,"dlogg":0.03},{"feh":0.27,"dlogg":-0.02},{"feh":0.28,"dlogg":0.06},{"feh":0.29,"dlogg":0.00},{"feh":0.29,"dlogg":-0.08},{"feh":0.30,"dlogg":0.04},{"feh":0.31,"dlogg":-0.03},
      {"feh":0.31,"dlogg":0.09},{"feh":0.32,"dlogg":0.01},{"feh":0.33,"dlogg":-0.05},{"feh":0.33,"dlogg":0.05},{"feh":0.34,"dlogg":0.00},{"feh":0.35,"dlogg":0.07},{"feh":0.36,"dlogg":-0.02},{"feh":0.37,"dlogg":0.03},{"feh":0.38,"dlogg":-0.06},{"feh":0.39,"dlogg":0.02},
      {"feh":0.40,"dlogg":0.06},{"feh":0.41,"dlogg":-0.01},{"feh":0.43,"dlogg":0.04},{"feh":0.44,"dlogg":0.09},
      {"feh":-0.16,"dlogg":0.02},{"feh":-0.06,"dlogg":-0.12},{"feh":0.04,"dlogg":0.09},{"feh":0.14,"dlogg":-0.13},{"feh":0.24,"dlogg":-0.10},{"feh":0.34,"dlogg":-0.11},{"feh":-0.22,"dlogg":-0.12},{"feh":0.08,"dlogg":-0.10},{"feh":0.18,"dlogg":0.13},{"feh":0.28,"dlogg":0.11},
      {"feh":0.38,"dlogg":0.08},{"feh":0.12,"dlogg":0.07},{"feh":0.02,"dlogg":0.00},{"feh":0.22,"dlogg":-0.06},{"feh":0.32,"dlogg":-0.09},{"feh":0.10,"dlogg":0.01},{"feh":0.20,"dlogg":-0.03},{"feh":0.30,"dlogg":-0.01},{"feh":0.00,"dlogg":-0.07},{"feh":-0.10,"dlogg":0.00},
      {"feh":0.16,"dlogg":-0.08},{"feh":0.26,"dlogg":0.05},{"feh":0.36,"dlogg":0.04},{"feh":0.06,"dlogg":0.05},{"feh":0.26,"dlogg":-0.13},{"feh":-0.02,"dlogg":0.06},{"feh":0.12,"dlogg":0.10},{"feh":0.18,"dlogg":0.01},{"feh":0.28,"dlogg":-0.04},{"feh":0.08,"dlogg":-0.03},
      {"feh":0.14,"dlogg":0.06},{"feh":0.24,"dlogg":0.06},{"feh":0.34,"dlogg":0.03},{"feh":0.04,"dlogg":-0.06},{"feh":0.16,"dlogg":-0.03},{"feh":0.22,"dlogg":0.09},{"feh":0.32,"dlogg":0.06},{"feh":-0.08,"dlogg":-0.05},{"feh":0.10,"dlogg":-0.12},{"feh":0.20,"dlogg":0.02},
      {"feh":0.30,"dlogg":0.02},{"feh":0.40,"dlogg":-0.04},{"feh":0.06,"dlogg":0.11},{"feh":0.18,"dlogg":-0.11},{"feh":0.15,"dlogg":0.15},{"feh":-0.19,"dlogg":-0.07}
    ],
    "errLogg": [{"logg":4.05,"logg_lo":4.03,"logg_hi":4.07,"dlogg":-0.6,"dlogg_lo":-0.715,"dlogg_hi":-0.485}],
    "errTeff": [{"teff":4400,"teff_lo":4320,"teff_hi":4480,"dlogg":-0.6,"dlogg_lo":-0.715,"dlogg_hi":-0.485}],
    "errFeh": [{"feh":-1.37,"feh_lo":-1.47,"feh_hi":-1.27,"dlogg":-0.6,"dlogg_lo":-0.715,"dlogg_hi":-0.485}]
  },
  "concat": [
    {
      "width": 172, "height": 115,
      "resolve": {"axis": {"x": "independent", "y": "independent"}},
      "layer": [
        {"data": {"name": "ionLogg"}, "mark": {"type": "point", "shape": "circle", "size": 30, "strokeWidth": 1, "opacity": 1, "color": "#ee1111"},
         "encoding": {
           "x": {"field": "logg", "type": "quantitative", "scale": {"domain": [1.1, 4.75], "nice": false, "zero": false}, "axis": {"orient": "bottom", "values": [1.5,2,2.5,3,3.5,4,4.5], "ticks": true, "tickColor": "black", "tickWidth": 1.3, "offset": -7, "tickSize": 7, "domain": false, "grid": false, "labels": false, "title": null}},
           "y": {"field": "dlogg", "type": "quantitative", "scale": {"domain": [-0.85, 0.85], "nice": false, "zero": false}, "axis": {"orient": "left", "values": [-0.5,0,0.5], "ticks": true, "tickColor": "black", "tickWidth": 1.3, "offset": -7, "tickSize": 7, "domain": false, "grid": false, "labelPadding": 12, "labelExpr": "format(datum.value, '~g')", "labelFont": "DejaVu Sans", "labelFontSize": 12, "labelColor": "black", "title": null}}}},
        {"data": {"name": "errLogg"}, "mark": {"type": "errorbar", "ticks": {"size": 7}, "thickness": 1.2, "color": "#333333"},
         "encoding": {
           "x": {"field": "logg", "type": "quantitative", "axis": {"orient": "bottom", "values": [1.2,1.3,1.4,1.6,1.7,1.8,1.9,2.1,2.2,2.3,2.4,2.6,2.7,2.8,2.9,3.1,3.2,3.3,3.4,3.6,3.7,3.8,3.9,4.1,4.2,4.3,4.4,4.6,4.7], "ticks": true, "tickColor": "black", "tickWidth": 1.3, "offset": -3.5, "tickSize": 3.5, "domain": false, "grid": false, "labels": false, "title": null}},
           "y": {"field": "dlogg_lo", "type": "quantitative", "axis": {"orient": "left", "values": [-0.8,-0.7,-0.6,-0.4,-0.3,-0.2,-0.1,0.1,0.2,0.3,0.4,0.6,0.7,0.8], "ticks": true, "tickColor": "black", "tickWidth": 1.3, "offset": -3.5, "tickSize": 3.5, "domain": false, "grid": false, "labels": false, "title": null}},
           "y2": {"field": "dlogg_hi"}}},
        {"data": {"name": "errLogg"}, "mark": {"type": "errorbar", "ticks": {"size": 4}, "thickness": 1.2, "color": "#333333"},
         "encoding": {
           "x": {"field": "logg_lo", "type": "quantitative", "axis": {"orient": "top", "values": [1.2,1.3,1.4,1.6,1.7,1.8,1.9,2.1,2.2,2.3,2.4,2.6,2.7,2.8,2.9,3.1,3.2,3.3,3.4,3.6,3.7,3.8,3.9,4.1,4.2,4.3,4.4,4.6,4.7], "ticks": true, "tickColor": "black", "tickWidth": 1.3, "offset": -3.5, "tickSize": 3.5, "domain": false, "grid": false, "labels": false, "title": null}},
           "x2": {"field": "logg_hi"},
           "y": {"field": "dlogg", "type": "quantitative", "axis": {"orient": "right", "values": [-0.8,-0.7,-0.6,-0.4,-0.3,-0.2,-0.1,0.1,0.2,0.3,0.4,0.6,0.7,0.8], "ticks": true, "tickColor": "black", "tickWidth": 1.3, "offset": -3.5, "tickSize": 3.5, "domain": false, "grid": false, "labels": false, "title": null}}}},
        {"data": {"values": [{}]}, "mark": {"type": "rule", "strokeDash": [9, 5], "strokeWidth": 1, "color": "#222222"},
         "encoding": {
           "x": {"datum": 1.1, "type": "quantitative", "axis": {"orient": "top", "values": [1.5,2,2.5,3,3.5,4,4.5], "ticks": true, "tickColor": "black", "tickWidth": 1.3, "offset": -7, "tickSize": 7, "domain": false, "grid": false, "labels": false, "title": null}},
           "x2": {"datum": 4.75},
           "y": {"datum": 0, "type": "quantitative", "axis": {"orient": "right", "values": [-0.5,0,0.5], "ticks": true, "tickColor": "black", "tickWidth": 1.3, "offset": -7, "tickSize": 7, "domain": false, "grid": false, "labels": false, "title": null}}}},
        {"data": {"values": [{}]}, "mark": {"type": "text", "text": ["mean=+0.001 dex", "σ=0.194 dex", "N=171"], "align": "left", "baseline": "top", "lineHeight": 9.3, "font": "DejaVu Sans", "fontSize": 7.5, "fontWeight": "bold", "color": "#ee1111"},
         "encoding": {"x": {"datum": 1.42, "type": "quantitative", "axis": null}, "y": {"datum": 0.725, "type": "quantitative", "axis": null}}},
        {"data": {"values": [{}]}, "mark": {"type": "text", "text": "ionisation balance", "align": "left", "baseline": "middle", "font": "DejaVu Sans", "fontSize": 11, "color": "#ee1111"},
         "encoding": {"x": {"datum": 1.40, "type": "quantitative", "axis": null}, "y": {"datum": -0.60, "type": "quantitative", "axis": null}}}
      ]
    },
    {
      "width": 172, "height": 115,
      "resolve": {"axis": {"x": "independent", "y": "independent"}},
      "layer": [
        {"data": {"name": "ionTeff"}, "mark": {"type": "point", "shape": "circle", "size": 30, "strokeWidth": 1, "opacity": 1, "color": "#ee1111"},
         "encoding": {
           "x": {"field": "teff", "type": "quantitative", "scale": {"domain": [4000, 7000], "nice": false, "zero": false}, "axis": {"orient": "bottom", "values": [5000,6000], "ticks": true, "tickColor": "black", "tickWidth": 1.3, "offset": -7, "tickSize": 7, "domain": false, "grid": false, "labels": false, "title": null}},
           "y": {"field": "dlogg", "type": "quantitative", "scale": {"domain": [-0.85, 0.85], "nice": false, "zero": false}, "axis": {"orient": "left", "values": [-0.5,0,0.5], "ticks": true, "tickColor": "black", "tickWidth": 1.3, "offset": -7, "tickSize": 7, "domain": false, "grid": false, "labels": false, "title": null}}}},
        {"data": {"name": "errTeff"}, "mark": {"type": "errorbar", "ticks": {"size": 7}, "thickness": 1.2, "color": "#333333"},
         "encoding": {
           "x": {"field": "teff", "type": "quantitative", "axis": {"orient": "bottom", "values": [4100,4200,4300,4400,4500,4600,4700,4800,4900,5100,5200,5300,5400,5500,5600,5700,5800,5900,6100,6200,6300,6400,6500,6600,6700,6800,6900], "ticks": true, "tickColor": "black", "tickWidth": 1.3, "offset": -3.5, "tickSize": 3.5, "domain": false, "grid": false, "labels": false, "title": null}},
           "y": {"field": "dlogg_lo", "type": "quantitative", "axis": {"orient": "left", "values": [-0.8,-0.7,-0.6,-0.4,-0.3,-0.2,-0.1,0.1,0.2,0.3,0.4,0.6,0.7,0.8], "ticks": true, "tickColor": "black", "tickWidth": 1.3, "offset": -3.5, "tickSize": 3.5, "domain": false, "grid": false, "labels": false, "title": null}},
           "y2": {"field": "dlogg_hi"}}},
        {"data": {"name": "errTeff"}, "mark": {"type": "errorbar", "ticks": {"size": 7}, "thickness": 1.2, "color": "#333333"},
         "encoding": {
           "x": {"field": "teff_lo", "type": "quantitative", "axis": {"orient": "top", "values": [4100,4200,4300,4400,4500,4600,4700,4800,4900,5100,5200,5300,5400,5500,5600,5700,5800,5900,6100,6200,6300,6400,6500,6600,6700,6800,6900], "ticks": true, "tickColor": "black", "tickWidth": 1.3, "offset": -3.5, "tickSize": 3.5, "domain": false, "grid": false, "labels": false, "title": null}},
           "x2": {"field": "teff_hi"},
           "y": {"field": "dlogg", "type": "quantitative", "axis": {"orient": "right", "values": [-0.8,-0.7,-0.6,-0.4,-0.3,-0.2,-0.1,0.1,0.2,0.3,0.4,0.6,0.7,0.8], "ticks": true, "tickColor": "black", "tickWidth": 1.3, "offset": -3.5, "tickSize": 3.5, "domain": false, "grid": false, "labels": false, "title": null}}}},
        {"data": {"values": [{}]}, "mark": {"type": "rule", "strokeDash": [9, 5], "strokeWidth": 1, "color": "#222222"},
         "encoding": {
           "x": {"datum": 4000, "type": "quantitative", "axis": {"orient": "top", "values": [5000,6000], "ticks": true, "tickColor": "black", "tickWidth": 1.3, "offset": -7, "tickSize": 7, "domain": false, "grid": false, "labels": false, "title": null}},
           "x2": {"datum": 7000},
           "y": {"datum": 0, "type": "quantitative", "axis": {"orient": "right", "values": [-0.5,0,0.5], "ticks": true, "tickColor": "black", "tickWidth": 1.3, "offset": -7, "tickSize": 7, "domain": false, "grid": false, "labels": false, "title": null}}}}
      ]
    },
    {
      "width": 172, "height": 115,
      "resolve": {"axis": {"x": "independent", "y": "independent"}},
      "layer": [
        {"data": {"name": "ionFeh"}, "mark": {"type": "point", "shape": "circle", "size": 30, "strokeWidth": 1, "opacity": 1, "color": "#ee1111"},
         "encoding": {
           "x": {"field": "feh", "type": "quantitative", "scale": {"domain": [-1.75, 0.5], "nice": false, "zero": false}, "axis": {"orient": "bottom", "values": [-1.5,-1,-0.5,0], "ticks": true, "tickColor": "black", "tickWidth": 1.3, "offset": -7, "tickSize": 7, "domain": false, "grid": false, "labels": false, "title": null}},
           "y": {"field": "dlogg", "type": "quantitative", "scale": {"domain": [-0.85, 0.85], "nice": false, "zero": false}, "axis": {"orient": "left", "values": [-0.5,0,0.5], "ticks": true, "tickColor": "black", "tickWidth": 1.3, "offset": -7, "tickSize": 7, "domain": false, "grid": false, "labels": false, "title": null}}}},
        {"data": {"name": "errFeh"}, "mark": {"type": "errorbar", "ticks": {"size": 7}, "thickness": 1.2, "color": "#333333"},
         "encoding": {
           "x": {"field": "feh", "type": "quantitative", "axis": {"orient": "bottom", "values": [-1.7,-1.6,-1.4,-1.3,-1.2,-1.1,-0.9,-0.8,-0.7,-0.6,-0.4,-0.3,-0.2,-0.1,0.1,0.2,0.3,0.4], "ticks": true, "tickColor": "black", "tickWidth": 1.3, "offset": -3.5, "tickSize": 3.5, "domain": false, "grid": false, "labels": false, "title": null}},
           "y": {"field": "dlogg_lo", "type": "quantitative", "axis": {"orient": "left", "values": [-0.8,-0.7,-0.6,-0.4,-0.3,-0.2,-0.1,0.1,0.2,0.3,0.4,0.6,0.7,0.8], "ticks": true, "tickColor": "black", "tickWidth": 1.3, "offset": -3.5, "tickSize": 3.5, "domain": false, "grid": false, "labels": false, "title": null}},
           "y2": {"field": "dlogg_hi"}}},
        {"data": {"name": "errFeh"}, "mark": {"type": "errorbar", "ticks": {"size": 7}, "thickness": 1.2, "color": "#333333"},
         "encoding": {
           "x": {"field": "feh_lo", "type": "quantitative", "axis": {"orient": "top", "values": [-1.7,-1.6,-1.4,-1.3,-1.2,-1.1,-0.9,-0.8,-0.7,-0.6,-0.4,-0.3,-0.2,-0.1,0.1,0.2,0.3,0.4], "ticks": true, "tickColor": "black", "tickWidth": 1.3, "offset": -3.5, "tickSize": 3.5, "domain": false, "grid": false, "labels": false, "title": null}},
           "x2": {"field": "feh_hi"},
           "y": {"field": "dlogg", "type": "quantitative", "axis": {"orient": "right", "values": [-0.8,-0.7,-0.6,-0.4,-0.3,-0.2,-0.1,0.1,0.2,0.3,0.4,0.6,0.7,0.8], "ticks": true, "tickColor": "black", "tickWidth": 1.3, "offset": -3.5, "tickSize": 3.5, "domain": false, "grid": false, "labels": false, "title": null}}}},
        {"data": {"values": [{}]}, "mark": {"type": "rule", "strokeDash": [9, 5], "strokeWidth": 1, "color": "#222222"},
         "encoding": {
           "x": {"datum": -1.75, "type": "quantitative", "axis": {"orient": "top", "values": [-1.5,-1,-0.5,0], "ticks": true, "tickColor": "black", "tickWidth": 1.3, "offset": -7, "tickSize": 7, "domain": false, "grid": false, "labels": false, "title": null}},
           "x2": {"datum": 0.5},
           "y": {"datum": 0, "type": "quantitative", "axis": {"orient": "right", "values": [-0.5,0,0.5], "ticks": true, "tickColor": "black", "tickWidth": 1.3, "offset": -7, "tickSize": 7, "domain": false, "grid": false, "labels": false, "title": null}}}}
      ]
    },
    {
      "width": 172, "height": 115,
      "resolve": {"axis": {"x": "independent", "y": "independent"}},
      "layer": [
        {"data": {"name": "lineLogg"}, "mark": {"type": "point", "shape": "circle", "size": 30, "strokeWidth": 1, "opacity": 1, "color": "#2a2ae0"},
         "encoding": {
           "x": {"field": "logg", "type": "quantitative", "scale": {"domain": [1.1, 4.75], "nice": false, "zero": false}, "axis": {"orient": "bottom", "values": [1.5,2,2.5,3,3.5,4,4.5], "ticks": true, "tickColor": "black", "tickWidth": 1.3, "offset": -7, "tickSize": 7, "domain": false, "grid": false, "labels": false, "title": null}},
           "y": {"field": "dlogg", "type": "quantitative", "scale": {"domain": [-0.85, 0.85], "nice": false, "zero": false}, "axis": {"orient": "left", "values": [-0.5,0,0.5], "ticks": true, "tickColor": "black", "tickWidth": 1.3, "offset": -7, "tickSize": 7, "domain": false, "grid": false, "labelPadding": 12, "labelExpr": "format(datum.value, '~g')", "labelFont": "DejaVu Sans", "labelFontSize": 12, "labelColor": "black", "title": "Δlogg = logg − logg (seismo)", "titleFont": "DejaVu Sans", "titleFontSize": 15, "titleFontWeight": "normal", "titleColor": "black", "titlePadding": 10, "titleY": 32}}}},
        {"data": {"name": "errLogg"}, "mark": {"type": "errorbar", "ticks": {"size": 7}, "thickness": 1.2, "color": "#333333"},
         "encoding": {
           "x": {"field": "logg", "type": "quantitative", "axis": {"orient": "bottom", "values": [1.2,1.3,1.4,1.6,1.7,1.8,1.9,2.1,2.2,2.3,2.4,2.6,2.7,2.8,2.9,3.1,3.2,3.3,3.4,3.6,3.7,3.8,3.9,4.1,4.2,4.3,4.4,4.6,4.7], "ticks": true, "tickColor": "black", "tickWidth": 1.3, "offset": -3.5, "tickSize": 3.5, "domain": false, "grid": false, "labels": false, "title": null}},
           "y": {"field": "dlogg_lo", "type": "quantitative", "axis": {"orient": "left", "values": [-0.8,-0.7,-0.6,-0.4,-0.3,-0.2,-0.1,0.1,0.2,0.3,0.4,0.6,0.7,0.8], "ticks": true, "tickColor": "black", "tickWidth": 1.3, "offset": -3.5, "tickSize": 3.5, "domain": false, "grid": false, "labels": false, "title": null}},
           "y2": {"field": "dlogg_hi"}}},
        {"data": {"name": "errLogg"}, "mark": {"type": "errorbar", "ticks": {"size": 4}, "thickness": 1.2, "color": "#333333"},
         "encoding": {
           "x": {"field": "logg_lo", "type": "quantitative", "axis": {"orient": "top", "values": [1.2,1.3,1.4,1.6,1.7,1.8,1.9,2.1,2.2,2.3,2.4,2.6,2.7,2.8,2.9,3.1,3.2,3.3,3.4,3.6,3.7,3.8,3.9,4.1,4.2,4.3,4.4,4.6,4.7], "ticks": true, "tickColor": "black", "tickWidth": 1.3, "offset": -3.5, "tickSize": 3.5, "domain": false, "grid": false, "labels": false, "title": null}},
           "x2": {"field": "logg_hi"},
           "y": {"field": "dlogg", "type": "quantitative", "axis": {"orient": "right", "values": [-0.8,-0.7,-0.6,-0.4,-0.3,-0.2,-0.1,0.1,0.2,0.3,0.4,0.6,0.7,0.8], "ticks": true, "tickColor": "black", "tickWidth": 1.3, "offset": -3.5, "tickSize": 3.5, "domain": false, "grid": false, "labels": false, "title": null}}}},
        {"data": {"values": [{}]}, "mark": {"type": "rule", "strokeDash": [9, 5], "strokeWidth": 1, "color": "#222222"},
         "encoding": {
           "x": {"datum": 1.1, "type": "quantitative", "axis": {"orient": "top", "values": [1.5,2,2.5,3,3.5,4,4.5], "ticks": true, "tickColor": "black", "tickWidth": 1.3, "offset": -7, "tickSize": 7, "domain": false, "grid": false, "labels": false, "title": null}},
           "x2": {"datum": 4.75},
           "y": {"datum": 0, "type": "quantitative", "axis": {"orient": "right", "values": [-0.5,0,0.5], "ticks": true, "tickColor": "black", "tickWidth": 1.3, "offset": -7, "tickSize": 7, "domain": false, "grid": false, "labels": false, "title": null}}}},
        {"data": {"values": [{}]}, "mark": {"type": "text", "text": ["mean=−0.036 dex", "σ=0.178 dex", "N=27"], "align": "left", "baseline": "top", "lineHeight": 9.3, "font": "DejaVu Sans", "fontSize": 7.5, "fontWeight": "bold", "color": "#2a2ae0"},
         "encoding": {"x": {"datum": 1.42, "type": "quantitative", "axis": null}, "y": {"datum": 0.725, "type": "quantitative", "axis": null}}},
        {"data": {"values": [{}]}, "mark": {"type": "text", "text": "line fitting", "align": "left", "baseline": "middle", "font": "DejaVu Sans", "fontSize": 11, "color": "#2a2ae0"},
         "encoding": {"x": {"datum": 1.40, "type": "quantitative", "axis": null}, "y": {"datum": -0.60, "type": "quantitative", "axis": null}}}
      ]
    },
    {
      "width": 172, "height": 115,
      "resolve": {"axis": {"x": "independent", "y": "independent"}},
      "layer": [
        {"data": {"name": "lineTeff"}, "mark": {"type": "point", "shape": "circle", "size": 30, "strokeWidth": 1, "opacity": 1, "color": "#2a2ae0"},
         "encoding": {
           "x": {"field": "teff", "type": "quantitative", "scale": {"domain": [4000, 7000], "nice": false, "zero": false}, "axis": {"orient": "bottom", "values": [5000,6000], "ticks": true, "tickColor": "black", "tickWidth": 1.3, "offset": -7, "tickSize": 7, "domain": false, "grid": false, "labels": false, "title": null}},
           "y": {"field": "dlogg", "type": "quantitative", "scale": {"domain": [-0.85, 0.85], "nice": false, "zero": false}, "axis": {"orient": "left", "values": [-0.5,0,0.5], "ticks": true, "tickColor": "black", "tickWidth": 1.3, "offset": -7, "tickSize": 7, "domain": false, "grid": false, "labels": false, "title": null}}}},
        {"data": {"name": "errTeff"}, "mark": {"type": "errorbar", "ticks": {"size": 7}, "thickness": 1.2, "color": "#333333"},
         "encoding": {
           "x": {"field": "teff", "type": "quantitative", "axis": {"orient": "bottom", "values": [4100,4200,4300,4400,4500,4600,4700,4800,4900,5100,5200,5300,5400,5500,5600,5700,5800,5900,6100,6200,6300,6400,6500,6600,6700,6800,6900], "ticks": true, "tickColor": "black", "tickWidth": 1.3, "offset": -3.5, "tickSize": 3.5, "domain": false, "grid": false, "labels": false, "title": null}},
           "y": {"field": "dlogg_lo", "type": "quantitative", "axis": {"orient": "left", "values": [-0.8,-0.7,-0.6,-0.4,-0.3,-0.2,-0.1,0.1,0.2,0.3,0.4,0.6,0.7,0.8], "ticks": true, "tickColor": "black", "tickWidth": 1.3, "offset": -3.5, "tickSize": 3.5, "domain": false, "grid": false, "labels": false, "title": null}},
           "y2": {"field": "dlogg_hi"}}},
        {"data": {"name": "errTeff"}, "mark": {"type": "errorbar", "ticks": {"size": 7}, "thickness": 1.2, "color": "#333333"},
         "encoding": {
           "x": {"field": "teff_lo", "type": "quantitative", "axis": {"orient": "top", "values": [4100,4200,4300,4400,4500,4600,4700,4800,4900,5100,5200,5300,5400,5500,5600,5700,5800,5900,6100,6200,6300,6400,6500,6600,6700,6800,6900], "ticks": true, "tickColor": "black", "tickWidth": 1.3, "offset": -3.5, "tickSize": 3.5, "domain": false, "grid": false, "labels": false, "title": null}},
           "x2": {"field": "teff_hi"},
           "y": {"field": "dlogg", "type": "quantitative", "axis": {"orient": "right", "values": [-0.8,-0.7,-0.6,-0.4,-0.3,-0.2,-0.1,0.1,0.2,0.3,0.4,0.6,0.7,0.8], "ticks": true, "tickColor": "black", "tickWidth": 1.3, "offset": -3.5, "tickSize": 3.5, "domain": false, "grid": false, "labels": false, "title": null}}}},
        {"data": {"values": [{}]}, "mark": {"type": "rule", "strokeDash": [9, 5], "strokeWidth": 1, "color": "#222222"},
         "encoding": {
           "x": {"datum": 4000, "type": "quantitative", "axis": {"orient": "top", "values": [5000,6000], "ticks": true, "tickColor": "black", "tickWidth": 1.3, "offset": -7, "tickSize": 7, "domain": false, "grid": false, "labels": false, "title": null}},
           "x2": {"datum": 7000},
           "y": {"datum": 0, "type": "quantitative", "axis": {"orient": "right", "values": [-0.5,0,0.5], "ticks": true, "tickColor": "black", "tickWidth": 1.3, "offset": -7, "tickSize": 7, "domain": false, "grid": false, "labels": false, "title": null}}}}
      ]
    },
    {
      "width": 172, "height": 115,
      "resolve": {"axis": {"x": "independent", "y": "independent"}},
      "layer": [
        {"data": {"name": "lineFeh"}, "mark": {"type": "point", "shape": "circle", "size": 30, "strokeWidth": 1, "opacity": 1, "color": "#2a2ae0"},
         "encoding": {
           "x": {"field": "feh", "type": "quantitative", "scale": {"domain": [-1.75, 0.5], "nice": false, "zero": false}, "axis": {"orient": "bottom", "values": [-1.5,-1,-0.5,0], "ticks": true, "tickColor": "black", "tickWidth": 1.3, "offset": -7, "tickSize": 7, "domain": false, "grid": false, "labels": false, "title": null}},
           "y": {"field": "dlogg", "type": "quantitative", "scale": {"domain": [-0.85, 0.85], "nice": false, "zero": false}, "axis": {"orient": "left", "values": [-0.5,0,0.5], "ticks": true, "tickColor": "black", "tickWidth": 1.3, "offset": -7, "tickSize": 7, "domain": false, "grid": false, "labels": false, "title": null}}}},
        {"data": {"name": "errFeh"}, "mark": {"type": "errorbar", "ticks": {"size": 7}, "thickness": 1.2, "color": "#333333"},
         "encoding": {
           "x": {"field": "feh", "type": "quantitative", "axis": {"orient": "bottom", "values": [-1.7,-1.6,-1.4,-1.3,-1.2,-1.1,-0.9,-0.8,-0.7,-0.6,-0.4,-0.3,-0.2,-0.1,0.1,0.2,0.3,0.4], "ticks": true, "tickColor": "black", "tickWidth": 1.3, "offset": -3.5, "tickSize": 3.5, "domain": false, "grid": false, "labels": false, "title": null}},
           "y": {"field": "dlogg_lo", "type": "quantitative", "axis": {"orient": "left", "values": [-0.8,-0.7,-0.6,-0.4,-0.3,-0.2,-0.1,0.1,0.2,0.3,0.4,0.6,0.7,0.8], "ticks": true, "tickColor": "black", "tickWidth": 1.3, "offset": -3.5, "tickSize": 3.5, "domain": false, "grid": false, "labels": false, "title": null}},
           "y2": {"field": "dlogg_hi"}}},
        {"data": {"name": "errFeh"}, "mark": {"type": "errorbar", "ticks": {"size": 7}, "thickness": 1.2, "color": "#333333"},
         "encoding": {
           "x": {"field": "feh_lo", "type": "quantitative", "axis": {"orient": "top", "values": [-1.7,-1.6,-1.4,-1.3,-1.2,-1.1,-0.9,-0.8,-0.7,-0.6,-0.4,-0.3,-0.2,-0.1,0.1,0.2,0.3,0.4], "ticks": true, "tickColor": "black", "tickWidth": 1.3, "offset": -3.5, "tickSize": 3.5, "domain": false, "grid": false, "labels": false, "title": null}},
           "x2": {"field": "feh_hi"},
           "y": {"field": "dlogg", "type": "quantitative", "axis": {"orient": "right", "values": [-0.8,-0.7,-0.6,-0.4,-0.3,-0.2,-0.1,0.1,0.2,0.3,0.4,0.6,0.7,0.8], "ticks": true, "tickColor": "black", "tickWidth": 1.3, "offset": -3.5, "tickSize": 3.5, "domain": false, "grid": false, "labels": false, "title": null}}}},
        {"data": {"values": [{}]}, "mark": {"type": "rule", "strokeDash": [9, 5], "strokeWidth": 1, "color": "#222222"},
         "encoding": {
           "x": {"datum": -1.75, "type": "quantitative", "axis": {"orient": "top", "values": [-1.5,-1,-0.5,0], "ticks": true, "tickColor": "black", "tickWidth": 1.3, "offset": -7, "tickSize": 7, "domain": false, "grid": false, "labels": false, "title": null}},
           "x2": {"datum": 0.5},
           "y": {"datum": 0, "type": "quantitative", "axis": {"orient": "right", "values": [-0.5,0,0.5], "ticks": true, "tickColor": "black", "tickWidth": 1.3, "offset": -7, "tickSize": 7, "domain": false, "grid": false, "labels": false, "title": null}}}}
      ]
    },
    {
      "width": 172, "height": 115,
      "resolve": {"axis": {"x": "independent", "y": "independent"}},
      "layer": [
        {"data": {"name": "isoLogg"}, "mark": {"type": "point", "shape": "circle", "size": 30, "strokeWidth": 1, "opacity": 1, "color": "#22e022"},
         "encoding": {
           "x": {"field": "logg", "type": "quantitative", "scale": {"domain": [1.1, 4.75], "nice": false, "zero": false}, "axis": {"orient": "bottom", "values": [1.5,2,2.5,3,3.5,4,4.5], "ticks": true, "tickColor": "black", "tickWidth": 1.3, "offset": -7, "tickSize": 7, "domain": false, "grid": false, "labelPadding": 8, "labelExpr": "format(datum.value, '~g')", "labelFont": "DejaVu Serif", "labelFontSize": 12, "labelColor": "black", "labelFlush": false, "labelOverlap": false, "title": "logg (seismo)", "titleFont": "DejaVu Serif", "titleFontSize": 14, "titleFontWeight": "normal", "titleColor": "black", "titlePadding": 4}},
           "y": {"field": "dlogg", "type": "quantitative", "scale": {"domain": [-0.85, 0.85], "nice": false, "zero": false}, "axis": {"orient": "left", "values": [-0.5,0,0.5], "ticks": true, "tickColor": "black", "tickWidth": 1.3, "offset": -7, "tickSize": 7, "domain": false, "grid": false, "labelPadding": 12, "labelExpr": "format(datum.value, '~g')", "labelFont": "DejaVu Sans", "labelFontSize": 12, "labelColor": "black", "title": null}}}},
        {"data": {"name": "errLogg"}, "mark": {"type": "errorbar", "ticks": {"size": 7}, "thickness": 1.2, "color": "#333333"},
         "encoding": {
           "x": {"field": "logg", "type": "quantitative", "axis": {"orient": "bottom", "values": [1.2,1.3,1.4,1.6,1.7,1.8,1.9,2.1,2.2,2.3,2.4,2.6,2.7,2.8,2.9,3.1,3.2,3.3,3.4,3.6,3.7,3.8,3.9,4.1,4.2,4.3,4.4,4.6,4.7], "ticks": true, "tickColor": "black", "tickWidth": 1.3, "offset": -3.5, "tickSize": 3.5, "domain": false, "grid": false, "labels": false, "title": null}},
           "y": {"field": "dlogg_lo", "type": "quantitative", "axis": {"orient": "left", "values": [-0.8,-0.7,-0.6,-0.4,-0.3,-0.2,-0.1,0.1,0.2,0.3,0.4,0.6,0.7,0.8], "ticks": true, "tickColor": "black", "tickWidth": 1.3, "offset": -3.5, "tickSize": 3.5, "domain": false, "grid": false, "labels": false, "title": null}},
           "y2": {"field": "dlogg_hi"}}},
        {"data": {"name": "errLogg"}, "mark": {"type": "errorbar", "ticks": {"size": 4}, "thickness": 1.2, "color": "#333333"},
         "encoding": {
           "x": {"field": "logg_lo", "type": "quantitative", "axis": {"orient": "top", "values": [1.2,1.3,1.4,1.6,1.7,1.8,1.9,2.1,2.2,2.3,2.4,2.6,2.7,2.8,2.9,3.1,3.2,3.3,3.4,3.6,3.7,3.8,3.9,4.1,4.2,4.3,4.4,4.6,4.7], "ticks": true, "tickColor": "black", "tickWidth": 1.3, "offset": -3.5, "tickSize": 3.5, "domain": false, "grid": false, "labels": false, "title": null}},
           "x2": {"field": "logg_hi"},
           "y": {"field": "dlogg", "type": "quantitative", "axis": {"orient": "right", "values": [-0.8,-0.7,-0.6,-0.4,-0.3,-0.2,-0.1,0.1,0.2,0.3,0.4,0.6,0.7,0.8], "ticks": true, "tickColor": "black", "tickWidth": 1.3, "offset": -3.5, "tickSize": 3.5, "domain": false, "grid": false, "labels": false, "title": null}}}},
        {"data": {"values": [{}]}, "mark": {"type": "rule", "strokeDash": [9, 5], "strokeWidth": 1, "color": "#222222"},
         "encoding": {
           "x": {"datum": 1.1, "type": "quantitative", "axis": {"orient": "top", "values": [1.5,2,2.5,3,3.5,4,4.5], "ticks": true, "tickColor": "black", "tickWidth": 1.3, "offset": -7, "tickSize": 7, "domain": false, "grid": false, "labels": false, "title": null}},
           "x2": {"datum": 4.75},
           "y": {"datum": 0, "type": "quantitative", "axis": {"orient": "right", "values": [-0.5,0,0.5], "ticks": true, "tickColor": "black", "tickWidth": 1.3, "offset": -7, "tickSize": 7, "domain": false, "grid": false, "labels": false, "title": null}}}},
        {"data": {"values": [{}]}, "mark": {"type": "text", "text": ["mean=+0.010 dex", "σ=0.142 dex", "N=166"], "align": "left", "baseline": "top", "lineHeight": 9.3, "font": "DejaVu Sans", "fontSize": 7.5, "fontWeight": "bold", "color": "#22e022"},
         "encoding": {"x": {"datum": 1.42, "type": "quantitative", "axis": null}, "y": {"datum": 0.725, "type": "quantitative", "axis": null}}},
        {"data": {"values": [{}]}, "mark": {"type": "text", "text": "isochrone fitting", "align": "left", "baseline": "middle", "font": "DejaVu Sans", "fontSize": 11, "color": "#22e022"},
         "encoding": {"x": {"datum": 1.40, "type": "quantitative", "axis": null}, "y": {"datum": -0.60, "type": "quantitative", "axis": null}}}
      ]
    },
    {
      "width": 172, "height": 115,
      "resolve": {"axis": {"x": "independent", "y": "independent"}},
      "layer": [
        {"data": {"name": "isoTeff"}, "mark": {"type": "point", "shape": "circle", "size": 30, "strokeWidth": 1, "opacity": 1, "color": "#22e022"},
         "encoding": {
           "x": {"field": "teff", "type": "quantitative", "scale": {"domain": [4000, 7000], "nice": false, "zero": false}, "axis": {"orient": "bottom", "values": [5000,6000], "ticks": true, "tickColor": "black", "tickWidth": 1.3, "offset": -7, "tickSize": 7, "domain": false, "grid": false, "labelPadding": 8, "labelExpr": "format(datum.value, 'd')", "labelFont": "DejaVu Serif", "labelFontSize": 12, "labelColor": "black", "labelFlush": false, "labelOverlap": false, "title": "Teff [K]", "titleFont": "DejaVu Serif", "titleFontSize": 14, "titleFontWeight": "normal", "titleColor": "black", "titlePadding": 4}},
           "y": {"field": "dlogg", "type": "quantitative", "scale": {"domain": [-0.85, 0.85], "nice": false, "zero": false}, "axis": {"orient": "left", "values": [-0.5,0,0.5], "ticks": true, "tickColor": "black", "tickWidth": 1.3, "offset": -7, "tickSize": 7, "domain": false, "grid": false, "labels": false, "title": null}}}},
        {"data": {"name": "errTeff"}, "mark": {"type": "errorbar", "ticks": {"size": 7}, "thickness": 1.2, "color": "#333333"},
         "encoding": {
           "x": {"field": "teff", "type": "quantitative", "axis": {"orient": "bottom", "values": [4100,4200,4300,4400,4500,4600,4700,4800,4900,5100,5200,5300,5400,5500,5600,5700,5800,5900,6100,6200,6300,6400,6500,6600,6700,6800,6900], "ticks": true, "tickColor": "black", "tickWidth": 1.3, "offset": -3.5, "tickSize": 3.5, "domain": false, "grid": false, "labels": false, "title": null}},
           "y": {"field": "dlogg_lo", "type": "quantitative", "axis": {"orient": "left", "values": [-0.8,-0.7,-0.6,-0.4,-0.3,-0.2,-0.1,0.1,0.2,0.3,0.4,0.6,0.7,0.8], "ticks": true, "tickColor": "black", "tickWidth": 1.3, "offset": -3.5, "tickSize": 3.5, "domain": false, "grid": false, "labels": false, "title": null}},
           "y2": {"field": "dlogg_hi"}}},
        {"data": {"name": "errTeff"}, "mark": {"type": "errorbar", "ticks": {"size": 7}, "thickness": 1.2, "color": "#333333"},
         "encoding": {
           "x": {"field": "teff_lo", "type": "quantitative", "axis": {"orient": "top", "values": [4100,4200,4300,4400,4500,4600,4700,4800,4900,5100,5200,5300,5400,5500,5600,5700,5800,5900,6100,6200,6300,6400,6500,6600,6700,6800,6900], "ticks": true, "tickColor": "black", "tickWidth": 1.3, "offset": -3.5, "tickSize": 3.5, "domain": false, "grid": false, "labels": false, "title": null}},
           "x2": {"field": "teff_hi"},
           "y": {"field": "dlogg", "type": "quantitative", "axis": {"orient": "right", "values": [-0.8,-0.7,-0.6,-0.4,-0.3,-0.2,-0.1,0.1,0.2,0.3,0.4,0.6,0.7,0.8], "ticks": true, "tickColor": "black", "tickWidth": 1.3, "offset": -3.5, "tickSize": 3.5, "domain": false, "grid": false, "labels": false, "title": null}}}},
        {"data": {"values": [{}]}, "mark": {"type": "rule", "strokeDash": [9, 5], "strokeWidth": 1, "color": "#222222"},
         "encoding": {
           "x": {"datum": 4000, "type": "quantitative", "axis": {"orient": "top", "values": [5000,6000], "ticks": true, "tickColor": "black", "tickWidth": 1.3, "offset": -7, "tickSize": 7, "domain": false, "grid": false, "labels": false, "title": null}},
           "x2": {"datum": 7000},
           "y": {"datum": 0, "type": "quantitative", "axis": {"orient": "right", "values": [-0.5,0,0.5], "ticks": true, "tickColor": "black", "tickWidth": 1.3, "offset": -7, "tickSize": 7, "domain": false, "grid": false, "labels": false, "title": null}}}}
      ]
    },
    {
      "width": 172, "height": 115,
      "resolve": {"axis": {"x": "independent", "y": "independent"}},
      "layer": [
        {"data": {"name": "isoFeh"}, "mark": {"type": "point", "shape": "circle", "size": 30, "strokeWidth": 1, "opacity": 1, "color": "#22e022"},
         "encoding": {
           "x": {"field": "feh", "type": "quantitative", "scale": {"domain": [-1.75, 0.5], "nice": false, "zero": false}, "axis": {"orient": "bottom", "values": [-1.5,-1,-0.5,0,0.5], "ticks": true, "tickColor": "black", "tickWidth": 1.3, "offset": -7, "tickSize": 7, "domain": false, "grid": false, "labelPadding": 8, "labelFlush": true, "labelOverlap": false, "labelExpr": "format(datum.value, '~g')", "labelFont": "DejaVu Serif", "labelFontSize": 12, "labelColor": "black", "title": "[Fe/H]", "titleFont": "DejaVu Serif", "titleFontSize": 14, "titleFontWeight": "normal", "titleColor": "black", "titlePadding": 4}},
           "y": {"field": "dlogg", "type": "quantitative", "scale": {"domain": [-0.85, 0.85], "nice": false, "zero": false}, "axis": {"orient": "left", "values": [-0.5,0,0.5], "ticks": true, "tickColor": "black", "tickWidth": 1.3, "offset": -7, "tickSize": 7, "domain": false, "grid": false, "labels": false, "title": null}}}},
        {"data": {"name": "errFeh"}, "mark": {"type": "errorbar", "ticks": {"size": 7}, "thickness": 1.2, "color": "#333333"},
         "encoding": {
           "x": {"field": "feh", "type": "quantitative", "axis": {"orient": "bottom", "values": [-1.7,-1.6,-1.4,-1.3,-1.2,-1.1,-0.9,-0.8,-0.7,-0.6,-0.4,-0.3,-0.2,-0.1,0.1,0.2,0.3,0.4], "ticks": true, "tickColor": "black", "tickWidth": 1.3, "offset": -3.5, "tickSize": 3.5, "domain": false, "grid": false, "labels": false, "title": null}},
           "y": {"field": "dlogg_lo", "type": "quantitative", "axis": {"orient": "left", "values": [-0.8,-0.7,-0.6,-0.4,-0.3,-0.2,-0.1,0.1,0.2,0.3,0.4,0.6,0.7,0.8], "ticks": true, "tickColor": "black", "tickWidth": 1.3, "offset": -3.5, "tickSize": 3.5, "domain": false, "grid": false, "labels": false, "title": null}},
           "y2": {"field": "dlogg_hi"}}},
        {"data": {"name": "errFeh"}, "mark": {"type": "errorbar", "ticks": {"size": 7}, "thickness": 1.2, "color": "#333333"},
         "encoding": {
           "x": {"field": "feh_lo", "type": "quantitative", "axis": {"orient": "top", "values": [-1.7,-1.6,-1.4,-1.3,-1.2,-1.1,-0.9,-0.8,-0.7,-0.6,-0.4,-0.3,-0.2,-0.1,0.1,0.2,0.3,0.4], "ticks": true, "tickColor": "black", "tickWidth": 1.3, "offset": -3.5, "tickSize": 3.5, "domain": false, "grid": false, "labels": false, "title": null}},
           "x2": {"field": "feh_hi"},
           "y": {"field": "dlogg", "type": "quantitative", "axis": {"orient": "right", "values": [-0.8,-0.7,-0.6,-0.4,-0.3,-0.2,-0.1,0.1,0.2,0.3,0.4,0.6,0.7,0.8], "ticks": true, "tickColor": "black", "tickWidth": 1.3, "offset": -3.5, "tickSize": 3.5, "domain": false, "grid": false, "labels": false, "title": null}}}},
        {"data": {"values": [{}]}, "mark": {"type": "rule", "strokeDash": [9, 5], "strokeWidth": 1, "color": "#222222"},
         "encoding": {
           "x": {"datum": -1.75, "type": "quantitative", "axis": {"orient": "top", "values": [-1.5,-1,-0.5,0], "ticks": true, "tickColor": "black", "tickWidth": 1.3, "offset": -7, "tickSize": 7, "domain": false, "grid": false, "labels": false, "title": null}},
           "x2": {"datum": 0.5},
           "y": {"datum": 0, "type": "quantitative", "axis": {"orient": "right", "values": [-0.5,0,0.5], "ticks": true, "tickColor": "black", "tickWidth": 1.3, "offset": -7, "tickSize": 7, "domain": false, "grid": false, "labels": false, "title": null}}}}
      ]
    }
  ],
  "config": {
    "view": {"stroke": "black", "strokeWidth": 1.5}
  }
}
